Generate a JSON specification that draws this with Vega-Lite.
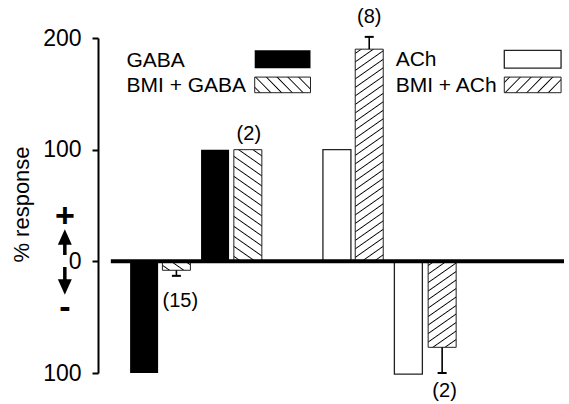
{
  "$schema": "https://vega.github.io/schema/vega-lite/v6.json",
  "width": 471,
  "height": 335,
  "autosize": {"type": "none"},
  "padding": {"left": 98, "top": 38, "right": 0, "bottom": 31},
  "background": "white",
  "config": {
    "view": {"stroke": null},
    "font": "Liberation Sans",
    "text": {"font": "Liberation Sans", "color": "black"}
  },
  "datasets": {
    "bars": [
      {"id": "GABA_hyper", "cond": "GABA", "pos": 42, "v": -100},
      {"id": "BMI_GABA_hyper", "cond": "BMI + GABA", "pos": 75, "v": -8, "err": -13},
      {"id": "GABA_dep", "cond": "GABA", "pos": 114.5, "v": 100},
      {"id": "BMI_GABA_dep", "cond": "BMI + GABA", "pos": 148, "v": 100},
      {"id": "ACh_dep", "cond": "ACh", "pos": 239, "v": 100},
      {"id": "BMI_ACh_dep", "cond": "BMI + ACh", "pos": 272, "v": 190, "err": 201},
      {"id": "ACh_hyper", "cond": "ACh", "pos": 312, "v": -101},
      {"id": "BMI_ACh_hyper", "cond": "BMI + ACh", "pos": 346.5, "v": -77, "err": -100}
    ],
    "notes": [
      {"n": "(15)", "pos": 79, "v": -35.5},
      {"n": "(2)", "pos": 149, "v": 113.6},
      {"n": "(8)", "pos": 272, "v": 218.4},
      {"n": "(2)", "pos": 349, "v": -116.1}
    ],
    "legend": [
      {"cond": "GABA", "tx": 24, "ty": 174.0, "x0": 155, "x1": 212, "y0": 173, "y1": 189},
      {"cond": "BMI + GABA", "tx": 24, "ty": 151.6, "x0": 155, "x1": 212, "y0": 151, "y1": 165},
      {"cond": "ACh", "tx": 299, "ty": 174.5, "x0": 410, "x1": 468, "y0": 173, "y1": 189},
      {"cond": "BMI + ACh", "tx": 299, "ty": 151.6, "x0": 410, "x1": 468, "y0": 151, "y1": 165}
    ],
    "signs": [
      {"s": "+", "pos": -39, "v": 39.7},
      {"s": "-", "pos": -39, "v": -41.8}
    ],
    "arrows": [
      {"dir": "up", "pos": -39, "head": 21.8, "neck": 18.2, "tail": 5.7},
      {"dir": "down", "pos": -39, "head": -23, "neck": -19.4, "tail": -5.1}
    ]
  },
  "layer": [
    {
      "data": {"name": "bars"},
      "transform": [{"filter": "datum.cond === 'GABA'"}],
      "mark": {"type": "bar", "width": 28, "fill": "black", "orient": "vertical"},
      "encoding": {
        "x": {"field": "pos", "type": "quantitative", "scale": {"domain": [0, 471], "nice": false, "zero": false}, "axis": null},
        "y": {
          "field": "v", "type": "quantitative",
          "scale": {"domain": [-100, 200], "nice": false},
          "title": "%  response",
          "axis": {
            "values": [-100, 0, 100, 200],
            "labelExpr": "abs(datum.value)",
            "labelFont": "Liberation Sans", "labelFontSize": 23, "labelColor": "black", "labelPadding": 11,
            "tickSize": 6, "tickWidth": 2, "tickColor": "black",
            "domainColor": "black", "domainWidth": 2, "grid": false,
            "titleFont": "Liberation Sans", "titleFontSize": 22, "titleFontWeight": "normal", "titleColor": "black",
            "titleX": -77, "titleY": 166, "titleAngle": -90, "titleBaseline": "middle", "titleAlign": "center"
          }
        },
        "y2": {"datum": 0}
      }
    },
    {
      "data": {"name": "bars"},
      "transform": [{"filter": "datum.cond === 'ACh'"}],
      "mark": {"type": "bar", "width": 28, "fill": "white", "stroke": "#222", "strokeWidth": 1.3, "orient": "vertical"},
      "encoding": {
        "x": {"field": "pos", "type": "quantitative", "axis": null},
        "y": {"field": "v", "type": "quantitative"},
        "y2": {"datum": 0}
      }
    },
    {
      "data": {"name": "bars"},
      "transform": [{"filter": "datum.id === 'BMI_GABA_hyper'"}],
      "mark": {"type": "bar", "width": 28, "stroke": "#222", "strokeWidth": 1, "orient": "vertical",
        "fill": {"gradient": "linear", "x1": 0, "y1": 1, "x2": 1.2054, "y2": 0.4508, "stops": [
          {"offset": 0, "color": "#fff"},
          {"offset": 0.1367, "color": "#fff"}, {"offset": 0.1753, "color": "#000"}, {"offset": 0.2139, "color": "#fff"},
          {"offset": 0.4872, "color": "#fff"}, {"offset": 0.5258, "color": "#000"}, {"offset": 0.5644, "color": "#fff"},
          {"offset": 0.8377, "color": "#fff"}, {"offset": 0.8763, "color": "#000"}, {"offset": 0.9149, "color": "#fff"},
          {"offset": 1, "color": "#fff"}
        ]}},
      "encoding": {
        "x": {"field": "pos", "type": "quantitative", "axis": null},
        "y": {"field": "v", "type": "quantitative"},
        "y2": {"datum": 0}
      }
    },
    {
      "data": {"name": "bars"},
      "transform": [{"filter": "datum.id === 'BMI_GABA_dep'"}],
      "mark": {"type": "bar", "width": 28, "stroke": "#222", "strokeWidth": 1, "orient": "vertical",
        "fill": {"gradient": "linear", "x1": 0, "y1": 1, "x2": 0.2002, "y2": -0.1404, "stops": [
          {"offset": 0, "color": "#fff"},
          {"offset": 0.0297, "color": "#fff"}, {"offset": 0.0381, "color": "#000"}, {"offset": 0.0465, "color": "#fff"},
          {"offset": 0.1059, "color": "#fff"}, {"offset": 0.1143, "color": "#000"}, {"offset": 0.1227, "color": "#fff"},
          {"offset": 0.1821, "color": "#fff"}, {"offset": 0.1905, "color": "#000"}, {"offset": 0.1989, "color": "#fff"},
          {"offset": 0.2582, "color": "#fff"}, {"offset": 0.2666, "color": "#000"}, {"offset": 0.2750, "color": "#fff"},
          {"offset": 0.3344, "color": "#fff"}, {"offset": 0.3428, "color": "#000"}, {"offset": 0.3512, "color": "#fff"},
          {"offset": 0.4106, "color": "#fff"}, {"offset": 0.4190, "color": "#000"}, {"offset": 0.4274, "color": "#fff"},
          {"offset": 0.4868, "color": "#fff"}, {"offset": 0.4952, "color": "#000"}, {"offset": 0.5036, "color": "#fff"},
          {"offset": 0.5629, "color": "#fff"}, {"offset": 0.5713, "color": "#000"}, {"offset": 0.5797, "color": "#fff"},
          {"offset": 0.6391, "color": "#fff"}, {"offset": 0.6475, "color": "#000"}, {"offset": 0.6559, "color": "#fff"},
          {"offset": 0.7153, "color": "#fff"}, {"offset": 0.7237, "color": "#000"}, {"offset": 0.7321, "color": "#fff"},
          {"offset": 0.7915, "color": "#fff"}, {"offset": 0.7999, "color": "#000"}, {"offset": 0.8083, "color": "#fff"},
          {"offset": 0.8677, "color": "#fff"}, {"offset": 0.8761, "color": "#000"}, {"offset": 0.8845, "color": "#fff"},
          {"offset": 0.9438, "color": "#fff"}, {"offset": 0.9522, "color": "#000"}, {"offset": 0.9606, "color": "#fff"},
          {"offset": 1, "color": "#fff"}
        ]}},
      "encoding": {
        "x": {"field": "pos", "type": "quantitative", "axis": null},
        "y": {"field": "v", "type": "quantitative"},
        "y2": {"datum": 0}
      }
    },
    {
      "data": {"name": "bars"},
      "transform": [{"filter": "datum.id === 'BMI_ACh_dep'"}],
      "mark": {"type": "bar", "width": 28, "stroke": "#222", "strokeWidth": 1, "orient": "vertical",
        "fill": {"gradient": "linear", "x1": 0, "y1": 0, "x2": 0.1001, "y2": 1.0831, "stops": [
          {"offset": 0, "color": "#fff"},
          {"offset": 0.0136, "color": "#fff"}, {"offset": 0.0183, "color": "#000"}, {"offset": 0.0230, "color": "#fff"},
          {"offset": 0.0503, "color": "#fff"}, {"offset": 0.0550, "color": "#000"}, {"offset": 0.0597, "color": "#fff"},
          {"offset": 0.0870, "color": "#fff"}, {"offset": 0.0917, "color": "#000"}, {"offset": 0.0964, "color": "#fff"},
          {"offset": 0.1237, "color": "#fff"}, {"offset": 0.1284, "color": "#000"}, {"offset": 0.1331, "color": "#fff"},
          {"offset": 0.1603, "color": "#fff"}, {"offset": 0.1650, "color": "#000"}, {"offset": 0.1697, "color": "#fff"},
          {"offset": 0.1970, "color": "#fff"}, {"offset": 0.2017, "color": "#000"}, {"offset": 0.2064, "color": "#fff"},
          {"offset": 0.2337, "color": "#fff"}, {"offset": 0.2384, "color": "#000"}, {"offset": 0.2431, "color": "#fff"},
          {"offset": 0.2704, "color": "#fff"}, {"offset": 0.2751, "color": "#000"}, {"offset": 0.2798, "color": "#fff"},
          {"offset": 0.3070, "color": "#fff"}, {"offset": 0.3117, "color": "#000"}, {"offset": 0.3164, "color": "#fff"},
          {"offset": 0.3437, "color": "#fff"}, {"offset": 0.3484, "color": "#000"}, {"offset": 0.3531, "color": "#fff"},
          {"offset": 0.3804, "color": "#fff"}, {"offset": 0.3851, "color": "#000"}, {"offset": 0.3898, "color": "#fff"},
          {"offset": 0.4171, "color": "#fff"}, {"offset": 0.4218, "color": "#000"}, {"offset": 0.4265, "color": "#fff"},
          {"offset": 0.4537, "color": "#fff"}, {"offset": 0.4584, "color": "#000"}, {"offset": 0.4631, "color": "#fff"},
          {"offset": 0.4904, "color": "#fff"}, {"offset": 0.4951, "color": "#000"}, {"offset": 0.4998, "color": "#fff"},
          {"offset": 0.5271, "color": "#fff"}, {"offset": 0.5318, "color": "#000"}, {"offset": 0.5365, "color": "#fff"},
          {"offset": 0.5638, "color": "#fff"}, {"offset": 0.5685, "color": "#000"}, {"offset": 0.5732, "color": "#fff"},
          {"offset": 0.6004, "color": "#fff"}, {"offset": 0.6051, "color": "#000"}, {"offset": 0.6098, "color": "#fff"},
          {"offset": 0.6371, "color": "#fff"}, {"offset": 0.6418, "color": "#000"}, {"offset": 0.6465, "color": "#fff"},
          {"offset": 0.6738, "color": "#fff"}, {"offset": 0.6785, "color": "#000"}, {"offset": 0.6832, "color": "#fff"},
          {"offset": 0.7104, "color": "#fff"}, {"offset": 0.7151, "color": "#000"}, {"offset": 0.7198, "color": "#fff"},
          {"offset": 0.7471, "color": "#fff"}, {"offset": 0.7518, "color": "#000"}, {"offset": 0.7565, "color": "#fff"},
          {"offset": 0.7838, "color": "#fff"}, {"offset": 0.7885, "color": "#000"}, {"offset": 0.7932, "color": "#fff"},
          {"offset": 0.8205, "color": "#fff"}, {"offset": 0.8252, "color": "#000"}, {"offset": 0.8299, "color": "#fff"},
          {"offset": 0.8571, "color": "#fff"}, {"offset": 0.8618, "color": "#000"}, {"offset": 0.8665, "color": "#fff"},
          {"offset": 0.8938, "color": "#fff"}, {"offset": 0.8985, "color": "#000"}, {"offset": 0.9032, "color": "#fff"},
          {"offset": 0.9305, "color": "#fff"}, {"offset": 0.9352, "color": "#000"}, {"offset": 0.9399, "color": "#fff"},
          {"offset": 0.9672, "color": "#fff"}, {"offset": 0.9719, "color": "#000"}, {"offset": 0.9766, "color": "#fff"},
          {"offset": 1, "color": "#fff"}
        ]}},
      "encoding": {
        "x": {"field": "pos", "type": "quantitative", "axis": null},
        "y": {"field": "v", "type": "quantitative"},
        "y2": {"datum": 0}
      }
    },
    {
      "data": {"name": "bars"},
      "transform": [{"filter": "datum.id === 'BMI_ACh_hyper'"}],
      "mark": {"type": "bar", "width": 28, "stroke": "#222", "strokeWidth": 1, "orient": "vertical",
        "fill": {"gradient": "linear", "x1": 0, "y1": 0, "x2": 0.2661, "y2": 1.1673, "stops": [
          {"offset": 0, "color": "#fff"},
          {"offset": 0.0299, "color": "#fff"}, {"offset": 0.0403, "color": "#000"}, {"offset": 0.0507, "color": "#fff"},
          {"offset": 0.1104, "color": "#fff"}, {"offset": 0.1208, "color": "#000"}, {"offset": 0.1312, "color": "#fff"},
          {"offset": 0.1909, "color": "#fff"}, {"offset": 0.2013, "color": "#000"}, {"offset": 0.2117, "color": "#fff"},
          {"offset": 0.2714, "color": "#fff"}, {"offset": 0.2818, "color": "#000"}, {"offset": 0.2922, "color": "#fff"},
          {"offset": 0.3519, "color": "#fff"}, {"offset": 0.3623, "color": "#000"}, {"offset": 0.3727, "color": "#fff"},
          {"offset": 0.4324, "color": "#fff"}, {"offset": 0.4428, "color": "#000"}, {"offset": 0.4532, "color": "#fff"},
          {"offset": 0.5129, "color": "#fff"}, {"offset": 0.5233, "color": "#000"}, {"offset": 0.5337, "color": "#fff"},
          {"offset": 0.5934, "color": "#fff"}, {"offset": 0.6038, "color": "#000"}, {"offset": 0.6142, "color": "#fff"},
          {"offset": 0.6739, "color": "#fff"}, {"offset": 0.6843, "color": "#000"}, {"offset": 0.6947, "color": "#fff"},
          {"offset": 0.7544, "color": "#fff"}, {"offset": 0.7648, "color": "#000"}, {"offset": 0.7752, "color": "#fff"},
          {"offset": 0.8349, "color": "#fff"}, {"offset": 0.8453, "color": "#000"}, {"offset": 0.8557, "color": "#fff"},
          {"offset": 0.9155, "color": "#fff"}, {"offset": 0.9259, "color": "#000"}, {"offset": 0.9363, "color": "#fff"},
          {"offset": 1, "color": "#fff"}
        ]}},
      "encoding": {
        "x": {"field": "pos", "type": "quantitative", "axis": null},
        "y": {"field": "v", "type": "quantitative"},
        "y2": {"datum": 0}
      }
    },
    {
      "data": {"name": "bars"},
      "transform": [{"filter": "isValid(datum.err)"}],
      "mark": {"type": "rule", "stroke": "black", "strokeWidth": 1.6},
      "encoding": {
        "x": {"field": "pos", "type": "quantitative", "axis": null},
        "y": {"field": "v", "type": "quantitative"},
        "y2": {"field": "err"}
      }
    },
    {
      "data": {"name": "bars"},
      "transform": [{"filter": "isValid(datum.err)"}],
      "mark": {"type": "tick", "orient": "horizontal", "size": 9, "thickness": 2, "color": "black", "opacity": 1},
      "encoding": {
        "x": {"field": "pos", "type": "quantitative", "axis": null},
        "y": {"field": "err", "type": "quantitative"}
      }
    },
    {
      "data": {"values": [{}]},
      "mark": {"type": "rule", "stroke": "black", "strokeWidth": 4},
      "encoding": {
        "x": {"datum": 8, "type": "quantitative", "axis": null},
        "x2": {"datum": 471},
        "y": {"datum": 0, "type": "quantitative"}
      }
    },
    {
      "data": {"name": "notes"},
      "mark": {"type": "text", "fontSize": 20, "align": "center", "baseline": "middle"},
      "encoding": {
        "x": {"field": "pos", "type": "quantitative", "axis": null},
        "y": {"field": "v", "type": "quantitative"},
        "text": {"field": "n"}
      }
    },
    {
      "data": {"name": "legend"},
      "mark": {"type": "text", "fontSize": 21, "align": "left", "baseline": "alphabetic"},
      "encoding": {
        "x": {"field": "tx", "type": "quantitative", "axis": null},
        "y": {"field": "ty", "type": "quantitative"},
        "text": {"field": "cond"}
      }
    },
    {
      "data": {"name": "legend"},
      "transform": [{"filter": "datum.cond === 'GABA'"}],
      "mark": {"type": "rect", "fill": "black"},
      "encoding": {
        "x": {"field": "x0", "type": "quantitative", "axis": null},
        "x2": {"field": "x1"},
        "y": {"field": "y0", "type": "quantitative"},
        "y2": {"field": "y1"}
      }
    },
    {
      "data": {"name": "legend"},
      "transform": [{"filter": "datum.cond === 'ACh'"}],
      "mark": {"type": "rect", "fill": "white", "stroke": "#222", "strokeWidth": 1.3},
      "encoding": {
        "x": {"field": "x0", "type": "quantitative", "axis": null},
        "x2": {"field": "x1"},
        "y": {"field": "y0", "type": "quantitative"},
        "y2": {"field": "y1"}
      }
    },
    {
      "data": {"name": "legend"},
      "transform": [{"filter": "datum.cond === 'BMI + GABA'"}],
      "mark": {"type": "rect", "stroke": "#222", "strokeWidth": 1,
        "fill": {"gradient": "linear", "x1": 0, "y1": 1, "x2": 1.1851, "y2": 0.6750, "stops": [
          {"offset": 0, "color": "#fff"},
          {"offset": 0.0578, "color": "#fff"}, {"offset": 0.0757, "color": "#000"}, {"offset": 0.0936, "color": "#fff"},
          {"offset": 0.2093, "color": "#fff"}, {"offset": 0.2272, "color": "#000"}, {"offset": 0.2451, "color": "#fff"},
          {"offset": 0.3607, "color": "#fff"}, {"offset": 0.3786, "color": "#000"}, {"offset": 0.3965, "color": "#fff"},
          {"offset": 0.5122, "color": "#fff"}, {"offset": 0.5301, "color": "#000"}, {"offset": 0.5480, "color": "#fff"},
          {"offset": 0.6636, "color": "#fff"}, {"offset": 0.6815, "color": "#000"}, {"offset": 0.6994, "color": "#fff"},
          {"offset": 0.8151, "color": "#fff"}, {"offset": 0.8330, "color": "#000"}, {"offset": 0.8509, "color": "#fff"},
          {"offset": 1, "color": "#fff"}
        ]}},
      "encoding": {
        "x": {"field": "x0", "type": "quantitative", "axis": null},
        "x2": {"field": "x1"},
        "y": {"field": "y0", "type": "quantitative"},
        "y2": {"field": "y1"}
      }
    },
    {
      "data": {"name": "legend"},
      "transform": [{"filter": "datum.cond === 'BMI + ACh'"}],
      "mark": {"type": "rect", "stroke": "#222", "strokeWidth": 1,
        "fill": {"gradient": "linear", "x1": 0, "y1": 0, "x2": 1.1835, "y2": 0.3189, "stops": [
          {"offset": 0, "color": "#fff"},
          {"offset": 0.0570, "color": "#fff"}, {"offset": 0.0747, "color": "#000"}, {"offset": 0.0924, "color": "#fff"},
          {"offset": 0.2064, "color": "#fff"}, {"offset": 0.2241, "color": "#000"}, {"offset": 0.2418, "color": "#fff"},
          {"offset": 0.3558, "color": "#fff"}, {"offset": 0.3735, "color": "#000"}, {"offset": 0.3912, "color": "#fff"},
          {"offset": 0.5052, "color": "#fff"}, {"offset": 0.5229, "color": "#000"}, {"offset": 0.5406, "color": "#fff"},
          {"offset": 0.6546, "color": "#fff"}, {"offset": 0.6723, "color": "#000"}, {"offset": 0.6900, "color": "#fff"},
          {"offset": 0.8040, "color": "#fff"}, {"offset": 0.8217, "color": "#000"}, {"offset": 0.8394, "color": "#fff"},
          {"offset": 1, "color": "#fff"}
        ]}},
      "encoding": {
        "x": {"field": "x0", "type": "quantitative", "axis": null},
        "x2": {"field": "x1"},
        "y": {"field": "y0", "type": "quantitative"},
        "y2": {"field": "y1"}
      }
    },
    {
      "data": {"name": "signs"},
      "mark": {"type": "text", "fontSize": 34, "fontWeight": "bold", "align": "center", "baseline": "middle"},
      "encoding": {
        "x": {"field": "pos", "type": "quantitative", "axis": null},
        "y": {"field": "v", "type": "quantitative"},
        "text": {"field": "s"}
      }
    },
    {
      "data": {"name": "arrows"},
      "mark": {"type": "rule", "stroke": "black", "strokeWidth": 3.5},
      "encoding": {
        "x": {"field": "pos", "type": "quantitative", "axis": null},
        "y": {"field": "neck", "type": "quantitative"},
        "y2": {"field": "tail"}
      }
    },
    {
      "data": {"name": "arrows"},
      "mark": {"type": "point", "filled": true, "fill": "black", "stroke": null, "opacity": 1, "size": 240},
      "encoding": {
        "x": {"field": "pos", "type": "quantitative", "axis": null},
        "y": {"field": "head", "type": "quantitative"},
        "shape": {"field": "dir", "type": "nominal", "scale": {"domain": ["up", "down"], "range": ["M0,-1L-0.9,1L0.9,1Z", "M0,1L-0.9,-1L0.9,-1Z"]}, "legend": null}
      }
    }
  ]
}
